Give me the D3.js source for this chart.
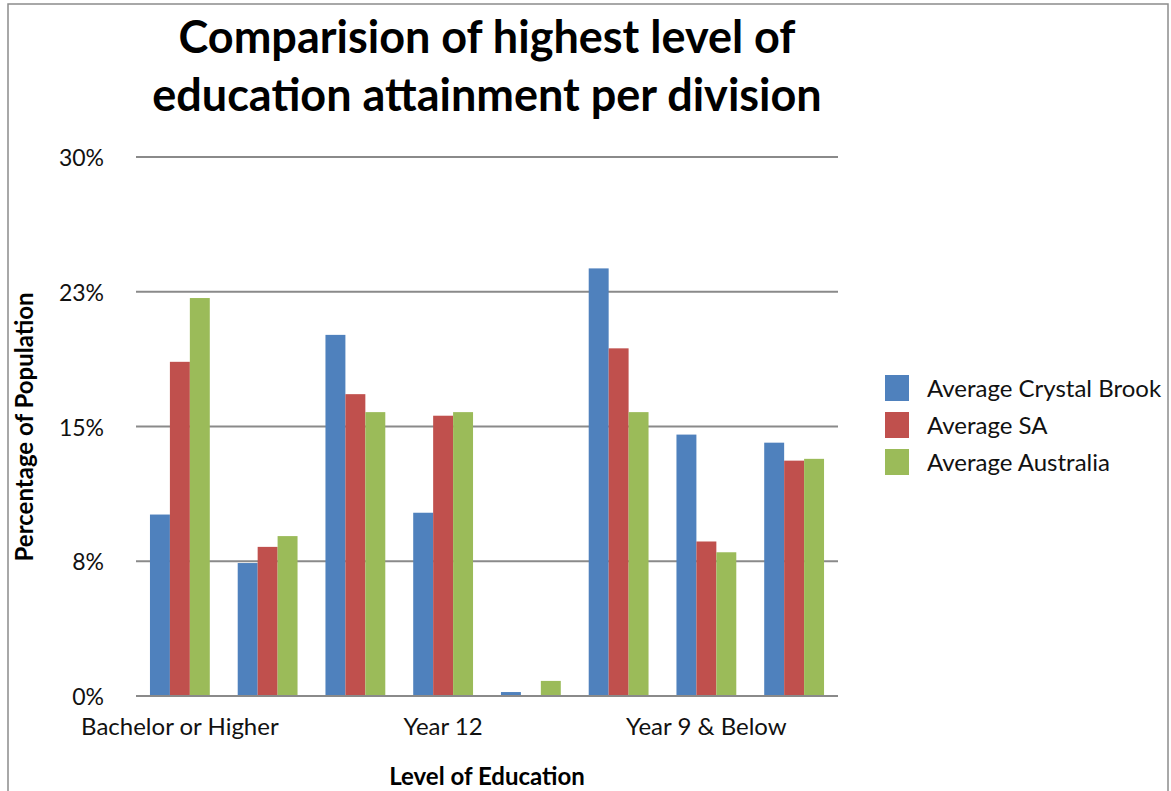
<!DOCTYPE html>
<html><head><meta charset="utf-8">
<script src="https://cdn.jsdelivr.net/npm/d3@7/dist/d3.min.js"></script>
<style>
html,body{margin:0;padding:0;background:#fff;}
text{font-family:Lato,"Open Sans",sans-serif;}
</style></head>
<body><svg id="c" width="1171" height="791"></svg>
<script>
const categories = ["Bachelor or Higher","Advanced Diploma and Diploma","Certificate III & IV","Year 12","Certificate I & II","Year 10 & Equivalent","Year 9 & Below","Not Stated"];
const shownLabels = ["Bachelor or Higher","Year 12","Year 9 & Below"];
const seriesNames = ["Average Crystal Brook","Average SA","Average Australia"];
const crystalBrook = [10.1, 7.4, 20.1, 10.2, 0.22, 23.8, 14.55, 14.1];
const averageSA    = [18.6, 8.3, 16.8, 15.6, 0.0, 19.35, 8.6, 13.1];
const averageAus   = [22.15, 8.9, 15.8, 15.8, 0.84, 15.8, 8.0, 13.2];
const yTicks = [0, 7.5, 15, 22.5, 30];
const colors = ["#4F81BD","#C0504D","#9BBB59"];

(function(){
const series = [crystalBrook, averageSA, averageAus];
const svg = d3.select("#c");

// outer border
svg.append("rect").attr("x",8).attr("y",4).attr("width",1160).attr("height",800)
  .attr("fill","none").attr("stroke","#8c8c8c").attr("stroke-width",1.5);

const pl=136, pr=838, pt=157, pb=696;
const x = d3.scaleBand().domain(categories).range([pl,pr]).paddingInner(0).paddingOuter(0);
const y = d3.scaleLinear().domain([0,30]).range([pb,pt]);
const xs = d3.scaleBand().domain(seriesNames).range([0, x.bandwidth()]).paddingInner(0).paddingOuter(0.7);

// gridlines
svg.append("g").selectAll("line").data(yTicks).join("line")
  .attr("x1",pl).attr("x2",pr)
  .attr("y1",d=>y(d)).attr("y2",d=>y(d))
  .attr("stroke","#8a8a8a").attr("stroke-width",2.2);

// y axis labels
svg.append("g").selectAll("text").data(yTicks).join("text")
  .attr("x",104).attr("y",d=>y(d)+9)
  .attr("text-anchor","end").attr("font-size",23).attr("fill","#111")
  .text(d=>d3.format(".0f")(Math.round(d))+"%");

// bars
const g = svg.append("g");
series.forEach((vals,si)=>{
  g.append("g").selectAll("rect").data(vals).join("rect")
    .attr("x",(d,i)=>x(categories[i])+xs(seriesNames[si]))
    .attr("width",xs.bandwidth())
    .attr("y",d=>y(d))
    .attr("height",d=>y(0)-y(d))
    .attr("fill",colors[si]);
});

// redraw baseline
svg.append("line").attr("x1",pl).attr("x2",pr).attr("y1",y(0)).attr("y2",y(0))
  .attr("stroke","#8a8a8a").attr("stroke-width",2.2);

// x labels
svg.append("g").selectAll("text").data(shownLabels).join("text")
  .attr("x",d=>x(d)+x.bandwidth()/2).attr("y",735)
  .attr("text-anchor","middle").attr("font-size",24).attr("fill","#111")
  .text(d=>d);

// title
const title = svg.append("text").attr("text-anchor","middle").attr("font-size",45)
  .attr("font-weight","bold").attr("fill","#000");
title.append("tspan").attr("x",487).attr("y",53).text("Comparision of highest level of");
title.append("tspan").attr("x",487).attr("y",111).text("education attainment per division");

// axis titles
svg.append("text").attr("x",487).attr("y",785).attr("text-anchor","middle")
  .attr("font-size",24).attr("font-weight","bold").attr("fill","#000").text("Level of Education");
svg.append("text").attr("transform","translate(33,427) rotate(-90)").attr("text-anchor","middle")
  .attr("font-size",24).attr("font-weight","bold").attr("fill","#000").text("Percentage of Population");

// legend
const lg = svg.append("g");
seriesNames.forEach((n,i)=>{
  lg.append("rect").attr("x",885).attr("y",375+i*37).attr("width",24).attr("height",26).attr("fill",colors[i]);
  lg.append("text").attr("x",927).attr("y",397+i*37).attr("font-size",24).attr("fill","#111").text(n);
});
})();
</script></body></html>
